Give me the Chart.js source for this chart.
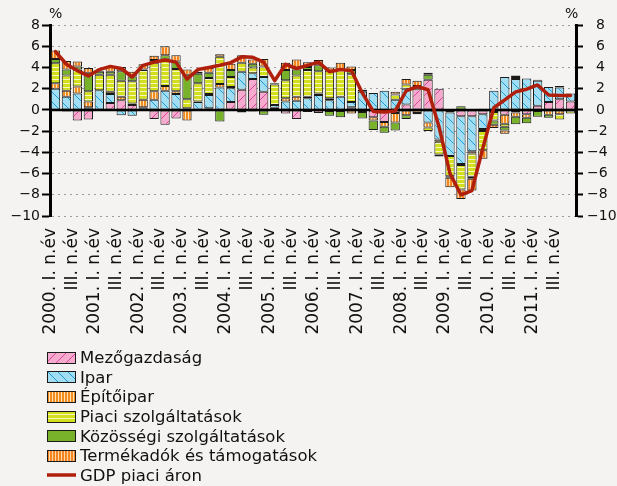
<!DOCTYPE html>
<html lang="hu">
<head>
<meta charset="utf-8">
<title>A GDP növekedéséhez való hozzájárulások</title>
<script src="https://cdn.jsdelivr.net/npm/chart.js@4.4.1/dist/chart.umd.min.js"></script>
<style>
  html, body { margin: 0; padding: 0; background: #f4f3f1; }
  body { width: 617px; height: 486px; position: relative; overflow: hidden;
         font-family: "DejaVu Sans", sans-serif; color: #111; }
  #wrap { position: absolute; left: 0; top: 0; width: 617px; height: 345px; }
  .pct { position: absolute; top: 5px; font-size: 14px; }
  #legend { position: absolute; left: 47px; top: 348px; }
  .item { display: flex; align-items: center; height: 19.6px; font-size: 16.5px; white-space: nowrap; }
  .item canvas { margin-right: 4px; }
</style>
</head>
<body>
<div id="wrap"><canvas id="chart"></canvas></div>
<div class="pct" style="left:49px">%</div>
<div class="pct" style="left:565px">%</div>
<div id="legend"></div>

<script>
// --- adatok (negyedéves hozzájárulás, %-pont) ---
const evek = [2000, 2001, 2002, 2003, 2004, 2005, 2006, 2007, 2008, 2009, 2010, 2011];
const negyedevek = ['I.', 'II.', 'III.', 'IV.'];
const yTickek = [-10, -8, -6, -4, -2, 0, 2, 4, 6, 8];

const mezogazdasag = [0, -0.15, -1.0, -0.9, 0, 0.65, 0.9, 0.45, 0, -0.85, -1.4, -0.8,
  0, 0, 0.15, 0, 0.75, 1.9, 2.9, 1.7, 0.2, -0.35, -0.85, -0.2,
  -0.3, -0.1, -0.1, 0.25, -0.2, -0.7, -1.15, -0.3, 0.5, 1.95, 2.85, 2.0,
  -0.25, -0.6, -0.6, -0.4, -0.2, -0.45, -0.25, -0.4, 0.4, 0.75, 1.0, 0.8];
const ipar = [2.0, 1.25, 1.55, 0.25, 1.85, 0.85, -0.5, -0.55, 0.25, 0.95, 1.8, 1.5,
  0.15, 0.75, 1.25, 2.1, 1.3, 1.7, 0.55, 1.4, 0.25, 0.8, 0.85, 1.1,
  1.4, 0.9, 1.25, 0.5, 1.7, 1.6, 1.8, 0.95, 1.5, 0.1, -1.2, -2.8,
  -4.1, -4.5, -3.3, -1.4, 1.8, 3.1, 2.9, 2.95, 2.35, 1.4, 1.1, 0.75];
const epitoipar = [0.5, 0.55, 0.65, 0.55, 0, 0.2, 0.35, 0.15, 0.7, 0.8, 0.45, 0.25,
  -1.0, 0.05, 0.1, 0.35, 0.1, -0.25, -0.15, 0, 0, 0.3, 0.4, 0.15,
  0.15, 0.2, 0, -0.35, 0, -0.3, -0.45, -0.9, -0.5, -0.3, -0.45, -0.2,
  0, -0.1, -0.2, -0.2, 0, -0.85, -0.4, -0.35, 0, -0.45, -0.4, 0];
const piaci = [1.9, 1.45, 1.6, 0.95, 1.45, 1.6, 1.5, 2.1, 2.8, 2.7, 2.5, 2.1,
  0.85, 1.7, 1.5, 2.55, 0.95, 0.85, 0.55, 1.0, 1.95, 1.7, 2.0, 2.5,
  2.1, 2.6, 2.5, 2.6, 0, 0, 0, 0.5, 0.4, 0.2, -0.35, -1.2,
  -1.9, -2.3, -2.2, -1.8, -0.8, -0.3, 0.2, 0, -0.1, 0, -0.5, -0.35];
const kozossegi = [0.4, 0.55, 0.3, 1.75, 0.3, 0.3, 0.9, 0.45, 0.05, 0.25, 0.4, 0.7,
  2.3, 0.9, 0.5, -1.1, 0.65, 0, 0.35, -0.45, -0.1, 0.95, 0.55, 0.3,
  0.55, -0.45, -0.6, 0.4, -0.6, -0.9, -0.55, -0.75, -0.35, -0.1, 0.45, -0.2,
  -0.15, 0.35, -0.2, 0.1, -0.4, -0.35, -0.7, -0.5, -0.55, -0.3, 0, 0];
const termekadok = [0.8, 0.8, 0.45, 0.45, 0.1, 0.45, 0.4, 0.45, 0.5, 0.4, 0.85, 0.6,
  0.5, 0.2, 0.45, 0.25, 0.6, 0.7, 0.4, 0.7, 0.1, 0.7, 0.95, 0.45,
  0.5, 0.3, 0.7, 0.35, 0.2, 0, 0, 0.25, 0.5, 0.5, 0.2, 0,
  -0.9, -0.9, -1.1, -0.8, -0.3, -0.3, 0.15, 0, 0.1, 0, 0.15, 0];
const gdp = [5.5, 4.3, 3.7, 3.2, 3.8, 4.1, 3.9, 3.1, 4.2, 4.5, 4.7, 4.5,
  2.9, 3.8, 4.0, 4.2, 4.45, 5.0, 4.95, 4.5, 2.75, 4.3, 3.9, 4.2,
  4.5, 3.6, 3.8, 3.7, 1.6, -0.15, -0.2, -0.1, 1.8, 2.2, 1.9, -1.6,
  -6.0, -8.0, -7.6, -3.6, 0.2, 0.95, 1.7, 1.95, 2.35, 1.4, 1.35, 1.35];

const kategoriak = [];
evek.forEach(ev => negyedevek.forEach(n => kategoriak.push(ev + '. ' + n + ' n.év')));

// --- minták ---
function minta(alap, rajz, w, h) {
    const c = document.createElement('canvas');
    c.width = w; c.height = h;
    const g = c.getContext('2d');
    g.fillStyle = alap;
    g.fillRect(0, 0, w, h);
    rajz(g, w, h);
    return g.createPattern(c, 'repeat');
}

function ferde(szin, fel) {
    return (g, w, h) => {
        g.strokeStyle = szin;
        g.lineWidth = 1;
        g.beginPath();
        if (fel) {
            g.moveTo(0, h); g.lineTo(w, 0);
            g.moveTo(-1, 1); g.lineTo(1, -1);
            g.moveTo(w - 1, h + 1); g.lineTo(w + 1, h - 1);
        } else {
            g.moveTo(0, 0); g.lineTo(w, h);
            g.moveTo(-1, h - 1); g.lineTo(1, h + 1);
            g.moveTo(w - 1, -1); g.lineTo(w + 1, 1);
        }
        g.stroke();
    };
}

const szinek = {
    mezo: minta('#f6aacd', ferde('#e0449a', true), 10, 10),
    ipar: minta('#a2def3', ferde('#1c9dd6', false), 10, 10),
    epito: minta('#f28c1e', (g) => { g.fillStyle = '#fde2b8'; g.fillRect(2, 0, 1, 1); }, 3, 1),
    piaci: minta('#d3de1c', (g) => { g.fillStyle = '#f6f8c0'; g.fillRect(0, 3, 1, 1); }, 1, 4),
    kozos: '#77b22a',
    termek: minta('#f48420', (g) => { g.fillStyle = '#fbd7a6'; g.fillRect(2, 0, 1, 1); }, 3, 1),
    gdp: '#b01f0b'
};

function oszlop(label, data, hatter) {
    return {
        type: 'bar', label: label, data: data, stack: 'hozzajarulas', order: 1,
        backgroundColor: hatter, borderColor: '#1a1a1a', borderWidth: 1, borderSkipped: false,
        categoryPercentage: 1, barPercentage: 0.85
    };
}

const datasets = [
    oszlop('Mezőgazdaság', mezogazdasag, szinek.mezo),
    oszlop('Ipar', ipar, szinek.ipar),
    oszlop('Építőipar', epitoipar, szinek.epito),
    oszlop('Piaci szolgáltatások', piaci, szinek.piaci),
    oszlop('Közösségi szolgáltatások', kozossegi, szinek.kozos),
    oszlop('Termékadók és támogatások', termekadok, szinek.termek),
    {
        type: 'line', label: 'GDP piaci áron', data: gdp, stack: 'gdp', order: 0,
        borderColor: szinek.gdp, borderWidth: 3.5, pointRadius: 0, tension: 0,
        borderJoinStyle: 'round', borderCapStyle: 'round', fill: false
    }
];

// nulla vonal az oszlopok fölött, a GDP vonal alatt
const nullaVonal = {
    id: 'nullaVonal',
    beforeDatasetDraw(chart, args) {
        if (args.index !== 6) return;
        const { ctx, chartArea, scales } = chart;
        const py = scales.y.getPixelForValue(0);
        ctx.save();
        ctx.strokeStyle = '#000';
        ctx.lineWidth = 2.5;
        ctx.beginPath();
        ctx.moveTo(chartArea.left, py);
        ctx.lineTo(chartArea.right, py);
        ctx.stroke();
        ctx.restore();
    }
};

const betu = { family: '"DejaVu Sans", sans-serif' };
const minusz = v => (v < 0 ? '\u2212' + Math.abs(v) : String(v));

new Chart(document.getElementById('chart'), {
    data: { labels: kategoriak, datasets: datasets },
    plugins: [nullaVonal],
    options: {
        responsive: true,
        maintainAspectRatio: false,
        animation: false,
        layout: { padding: { top: 25, left: 0, right: 0, bottom: 0 } },
        plugins: { legend: { display: false }, tooltip: { enabled: false } },
        scales: {
            x: {
                stacked: true,
                offset: true,
                grid: { display: false },
                border: { display: false },
                ticks: {
                    autoSkip: false, minRotation: 90, maxRotation: 90, padding: 4, labelOffset: -5,
                    color: '#111', font: { ...betu, size: 17 },
                    callback: function (v, i) {
                        if (i % 4 === 0) return kategoriak[i];
                        if (i % 4 === 2) return negyedevek[2] + ' n.év';
                        return '';
                    }
                },
                afterFit: s => { s.height = 129; }
            },
            y: {
                position: 'left', stacked: true,
                min: yTickek[0], max: yTickek[yTickek.length - 1],
                afterBuildTicks: s => { s.ticks = yTickek.map(v => ({ value: v })); },
                ticks: { color: '#111', padding: 2, font: { ...betu, size: 14 }, callback: minusz },
                grid: { color: '#9c9c9c', lineWidth: 1, drawTicks: true, tickLength: 8, tickColor: '#000', tickWidth: 2 },
                border: { display: true, color: '#000', width: 3, dash: [2, 4] },
                afterFit: s => { s.width = 50; }
            },
            y2: {
                position: 'right',
                min: yTickek[0], max: yTickek[yTickek.length - 1],
                afterBuildTicks: s => { s.ticks = yTickek.map(v => ({ value: v })); },
                ticks: {
                    color: '#111', padding: 4, font: { ...betu, size: 14 },
                    callback: v => (v < 0 ? minusz(v) : '\u2007' + v)
                },
                grid: { drawOnChartArea: false, drawTicks: true, tickLength: 7, tickColor: '#000', tickWidth: 2 },
                border: { display: true, color: '#000', width: 3 },
                afterFit: s => { s.width = 41; }
            }
        }
    }
});

// --- jelmagyarázat ---
const legend = document.getElementById('legend');
datasets.forEach(ds => {
    const sor = document.createElement('div');
    sor.className = 'item';
    const c = document.createElement('canvas');
    c.width = 29; c.height = 12;
    const g = c.getContext('2d');
    if (ds.type === 'bar') {
        g.fillStyle = ds.backgroundColor;
        g.fillRect(1, 1, 27, 10);
        g.strokeStyle = '#1a1a1a';
        g.lineWidth = 1;
        g.strokeRect(0.5, 0.5, 28, 11);
    } else {
        g.strokeStyle = ds.borderColor;
        g.lineWidth = 3.5;
        g.beginPath(); g.moveTo(0, 6); g.lineTo(29, 6); g.stroke();
    }
    const szoveg = document.createElement('span');
    szoveg.textContent = ds.label;
    sor.appendChild(c);
    sor.appendChild(szoveg);
    legend.appendChild(sor);
});
</script>
</body>
</html>
